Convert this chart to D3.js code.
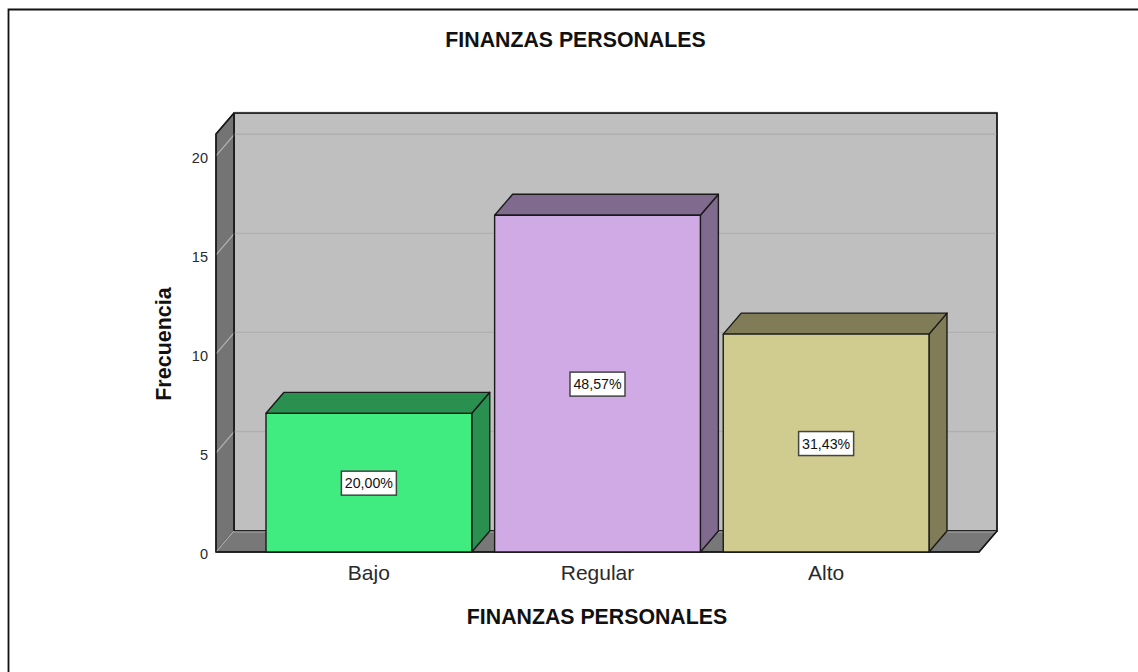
<!DOCTYPE html>
<html><head><meta charset="utf-8">
<script src="https://cdn.jsdelivr.net/npm/d3@7"></script>
<style>html,body{margin:0;padding:0;background:#fff}svg{display:block}text{font-family:"Liberation Sans",Arial,sans-serif}</style>
</head><body><svg id="c" width="1138" height="672"></svg>
<script>
const categories = ["Bajo","Regular","Alto"];
const frequency = [7,17,11];
const percentLabels = ["20,00%","48,57%","31,43%"];
const frontColors = ["#40EC7F","#CFAAE4","#D0CB8E"];
const sideColors = ["#2A9050","#806A8E","#807C57"];
const topColors = ["#2A9050","#806A8E","#807C57"];
const yTicks = [0,5,10,15,20];
const chartTitle = "FINANZAS PERSONALES";
const xTitle = "FINANZAS PERSONALES";
const yTitle = "Frecuencia";

const svg = d3.select("#c");
const W=1138,H=672;
const dx=18, dy=-21;
const y = d3.scaleLinear().domain([0,21.1]).range([552,134]);
const x = d3.scaleBand().domain(categories).range([266,929]).paddingInner(0.1);
const plotL=216, plotR=979;
const stroke="#1a1a1a";
const poly=(pts,fill,st=stroke,w=1.4)=>svg.append("polygon").attr("points",pts.map(p=>p.join(",")).join(" ")).attr("fill",fill).attr("stroke",st).attr("stroke-width",w).attr("stroke-linejoin","round");

// outer frame: top and left edges only
svg.append("path").attr("d",`M8.5,${H} V9.5 H${W}`).attr("fill","none").attr("stroke","#111").attr("stroke-width",1.8);

const yT=y.range()[1], y0=y(0);
poly([[plotL+dx,yT+dy],[plotR+dx,yT+dy],[plotR+dx,y0+dy],[plotL+dx,y0+dy]],"#BFBFBF");
poly([[plotL,yT],[plotL+dx,yT+dy],[plotL+dx,y0+dy],[plotL,y0]],"#747474");
poly([[plotL,y0],[plotL+dx,y0+dy],[plotR+dx,y0+dy],[plotR,y0]],"#787878");

// gridlines
svg.append("g").selectAll("path").data(yTicks.filter(d=>d>0).concat([y.domain()[1]])).join("path")
  .attr("d",d=>`M${plotL+dx},${y(d)+dy-0.5}H${plotR+dx}`).attr("stroke","#B0B0B0").attr("stroke-width",1.4).attr("fill","none");
svg.append("g").selectAll("path").data(yTicks).join("path")
  .attr("d",d=>`M${plotL},${y(d)}L${plotL+dx},${y(d)+dy}`).attr("stroke","#B4B4B4").attr("stroke-width",1.2).attr("fill","none");
svg.append("path").attr("d",`M${plotL+dx},${y0+dy+1}H${plotR+dx-1}`).attr("stroke","#989898").attr("stroke-width",1.5);
svg.append("path").attr("d",`M${plotL},${y0}V${yT}L${plotL+dx},${yT+dy}H${plotR+dx}V${y0+dy}L${plotR},${y0}H${plotL}M${plotL+dx},${yT+dy}V${y0+dy}`).attr("fill","none").attr("stroke",stroke).attr("stroke-width",1.4);

// bars
categories.forEach((c,i)=>{
  const l=x(c), r=l+x.bandwidth(), t=y(frequency[i]);
  poly([[r,t],[r+dx,t+dy],[r+dx,y0+dy],[r,y0]],sideColors[i]);
  poly([[l,t],[l+dx,t+dy],[r+dx,t+dy],[r,t]],topColors[i]);
  poly([[l,t],[r,t],[r,y0],[l,y0]],frontColors[i]);
  const cx=(l+r)/2, cy=(t+y0)/2+0.5;
  svg.append("rect").attr("x",cx-27.5).attr("y",cy-12).attr("width",55).attr("height",24).attr("fill","#fff").attr("stroke","#444").attr("stroke-width",1.5);
  svg.append("text").attr("x",cx).attr("y",cy+5).attr("text-anchor","middle").attr("font-size",14.2).attr("fill","#111").text(percentLabels[i]);
  svg.append("text").attr("x",cx).attr("y",580).attr("text-anchor","middle").attr("font-size",21).attr("fill","#2a2a2a").text(c);
});

// y tick labels
svg.append("g").selectAll("text").data(yTicks).join("text")
  .attr("x",208).attr("y",d=>y(d)+7).attr("text-anchor","end").attr("font-size",14.5).attr("fill","#2a2a2a").text(d=>d);

// titles
svg.append("text").attr("x",575.5).attr("y",46.5).attr("text-anchor","middle").attr("font-size",21.3).attr("font-weight","bold").attr("fill","#111").text(chartTitle);
svg.append("text").attr("x",597).attr("y",624).attr("text-anchor","middle").attr("font-size",21.3).attr("font-weight","bold").attr("fill","#111").text(xTitle);
svg.append("text").attr("transform","translate(170.5,344) rotate(-90)").attr("text-anchor","middle").attr("font-size",21.5).attr("font-weight","bold").attr("fill","#111").text(yTitle);
</script></body></html>
